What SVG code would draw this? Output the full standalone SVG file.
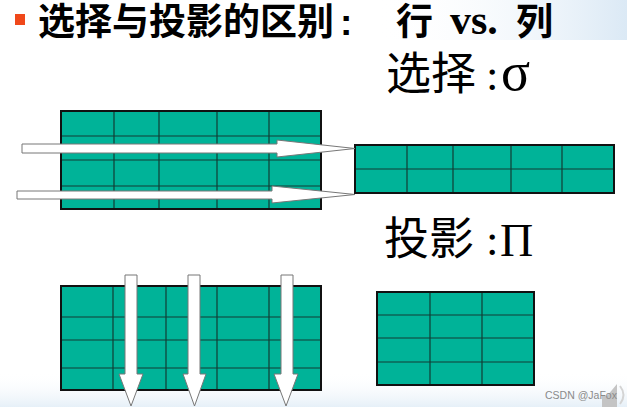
<svg xmlns="http://www.w3.org/2000/svg" width="627" height="407" viewBox="0 0 627 407">
<defs>
<style>
.cell{fill:#00B398;stroke:none}
.grid{stroke:#123c34;stroke-width:1.2;fill:none}
.frame{fill:none;stroke:#111;stroke-width:2}
.arrow{fill:#fff;stroke:#777;stroke-width:1}
.title{font-family:"Noto Sans CJK SC","Liberation Serif",sans-serif;font-weight:bold;font-size:37px;fill:#000}
.lbl{font-family:"Liberation Serif","Noto Sans CJK SC",serif;font-size:45px;fill:#000}
</style>
<linearGradient id="bgTop" x1="0" y1="0" x2="1" y2="0">
<stop offset="0.6" stop-color="#fff" stop-opacity="0"/>
<stop offset="1" stop-color="#dbe9f5"/>
</linearGradient>
<linearGradient id="bgBot" x1="0" y1="0" x2="0" y2="1">
<stop offset="0" stop-color="#fff" stop-opacity="0"/>
<stop offset="1" stop-color="#e6f0f8"/>
</linearGradient>
</defs>
<rect width="627" height="407" fill="#fff"/>
<rect width="627" height="40" fill="url(#bgTop)"/>
<rect y="372" width="627" height="35" fill="url(#bgBot)"/>

<g id="title">
<rect x="15" y="14" width="10" height="11" fill="#f0481a"/>
<text class="title" x="38" y="35">选择与投影的区别</text>
<text x="340" y="35" font-family="Liberation Sans,sans-serif" font-weight="bold" font-size="37">:</text>
<text class="title" x="396" y="35">行</text>
<text x="450" y="34" font-family="Liberation Serif,serif" font-weight="bold" font-size="42">vs.</text>
<text class="title" x="516" y="35">列</text>
</g>

<g id="label-select">
<text class="lbl" x="386" y="90">选择</text>
<text class="lbl" x="486" y="90">:</text>
<text x="501" y="90" font-family="Liberation Serif,serif" font-size="54">σ</text>
</g>
<g id="label-project">
<text class="lbl" x="384" y="255">投影</text>
<text class="lbl" x="486" y="255">:</text>
<text x="500" y="256" font-family="Liberation Serif,serif" font-size="46">Π</text>
</g>

<g id="table-source-select">
<rect class="cell" x="61" y="111" width="260" height="98"/>
<path class="grid" d="M114 111V209M159 111V209M217 111V209M269 111V209M61 136H321M61 160H321M61 186H321"/>
<rect class="frame" x="61" y="111" width="260" height="98"/>
</g>

<g id="table-result-select">
<rect class="cell" x="355" y="145" width="259" height="48"/>
<path class="grid" d="M407 145V193M453 145V193M511 145V193M562 145V193M355 169H614"/>
<rect class="frame" x="355" y="145" width="259" height="48"/>
</g>

<g id="table-source-project">
<rect class="cell" x="61" y="286" width="260" height="104"/>
<path class="grid" d="M113 286V390M166 286V390M217 286V390M269 286V390M61 317H321M61 340H321M61 368H321"/>
<rect class="frame" x="61" y="286" width="260" height="104"/>
</g>

<g id="table-result-project">
<rect class="cell" x="377" y="292" width="157" height="93"/>
<path class="grid" d="M430 292V385M482 292V385M377 315H534M377 338H534M377 362H534"/>
<rect class="frame" x="377" y="292" width="157" height="93"/>
</g>

<g id="connectors">
<polygon class="arrow" points="22,144 277,144 277,140 355,148.5 277,157 277,153 22,153"/>
<polygon class="arrow" points="17,191 272,191 272,186 355,194.5 272,203 272,199 17,199"/>
<polygon class="arrow" points="125,275 137,275 137,374 143,374 131,406 119,374 125,374"/>
<polygon class="arrow" points="188,275 200,275 200,374 206,374 194.5,406 183,374 188,374"/>
<polygon class="arrow" points="281,275 293,275 293,374 298,374 286,406 274,374 281,374"/>
</g>

<g id="watermark">
<polygon points="602,396 607,396 617,384 617,407 602,407" fill="#c4c4c4"/>
<path d="M620 386 Q627 395 620 404" fill="none" stroke="#d4d4d4" stroke-width="2"/>
<text x="545" y="399" font-family="Liberation Sans,sans-serif" font-size="10.5" fill="#8a8a8a">CSDN @JaFox</text>
</g>
</svg>
